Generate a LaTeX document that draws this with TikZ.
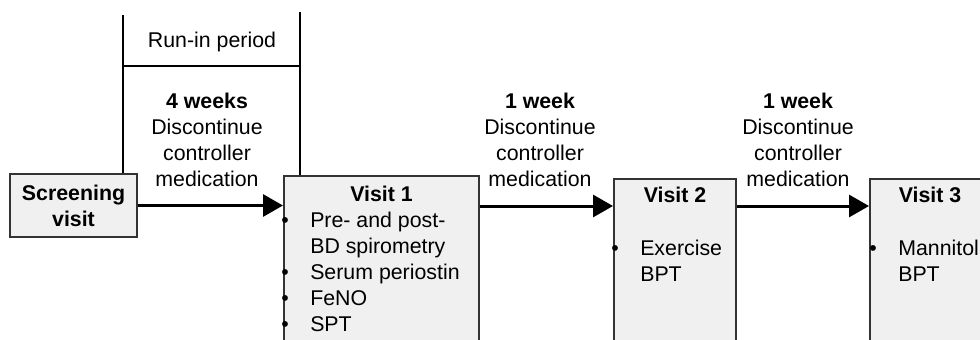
\documentclass[tikz,border=0pt]{standalone}
\usepackage{fontspec}
\setmainfont{Liberation Sans}
\usetikzlibrary{arrows.meta}
\definecolor{BoxFill}{HTML}{F0F0F0}
\definecolor{BoxLine}{HTML}{333333}
\newcommand{\bul}{\makebox[21.75pt][l]{\textbullet}}
\newcommand{\ind}{\hspace*{21.75pt}}
\begin{document}
\begin{tikzpicture}[
    x=0.75pt,y=-0.75pt,
    font=\fontsize{16}{19.5}\selectfont,
    box/.style={draw=BoxLine,fill=BoxFill,line width=1.5pt,inner sep=0pt},
    visit/.style={box,anchor=north west,minimum height=150pt},
    title/.style={font=\fontsize{16}{19.5}\selectfont\bfseries,inner sep=0pt},
    note/.style={align=center,inner sep=0pt,anchor=south},
    items/.style={align=left,inner sep=0pt,anchor=north west},
    arrow/.style={-{Triangle[length=15pt,width=16.5pt]},line width=2.25pt},
    period/.style={line width=1.1pt}
  ]
    \useasboundingbox (0,0) rectangle (980,339);
    \clip (0,0) rectangle (980,339);
    \node[box,minimum width=95.25pt,minimum height=47.25pt,align=center,font=\fontsize{16}{19.5}\selectfont\bfseries] (screen) at (73.5,205.5) {Screening\\visit};
    \node[visit,minimum width=146.25pt] (v1) at (283,175) {};
    \node[visit,minimum width=91.5pt] (v2) at (613,178) {};
    \node[visit,minimum width=90pt] (v3) at (869,178) {};
    \node[title,anchor=base] (v1t) at (v1.north |- 0,201) {Visit 1};
    \node[title,anchor=base] (v2t) at (v2.north |- 0,202) {Visit 2};
    \node[title,anchor=base] (v3t) at (v3.north |- 0,202) {Visit 3};
    \node[items] (v1l) at (281,211.5) {\bul Pre- and post-\\\ind BD spirometry\\\bul Serum periostin\\\bul FeNO\\\bul SPT};
    \node[items] (v2l) at (611,239.5) {\bul Exercise\\\ind BPT};
    \node[items] (v3l) at (869,239.5) {\bul Mannitol\\\ind BPT};
    \node[note] (wk4) at (207,187) {\textbf{4 weeks}\\Discontinue\\controller\\medication};
    \node[note] (wk1a) at (540,187) {\textbf{1 week}\\Discontinue\\controller\\medication};
    \node[note] (wk1b) at (798,187) {\textbf{1 week}\\Discontinue\\controller\\medication};
    \node[inner sep=0pt,anchor=base] (runin) at (212,47) {Run-in period};
    \coordinate (runA) at (123,15);
    \coordinate (runB) at (300,12);
    \draw[period] (runA) -- (runA |- screen.north);
    \draw[period] (runB) -- (runB |- v1.north);
    \draw[period] (runA |- 0,66) -- (runB |- 0,66);
    \draw[arrow] (screen.east) -- (screen.east -| v1.west);
    \draw[arrow] (v1.east |- 0,206) -- (v2.west |- 0,206);
    \draw[arrow] (v2.east |- 0,206) -- (v3.west |- 0,206);
  \end{tikzpicture}
\end{document}
